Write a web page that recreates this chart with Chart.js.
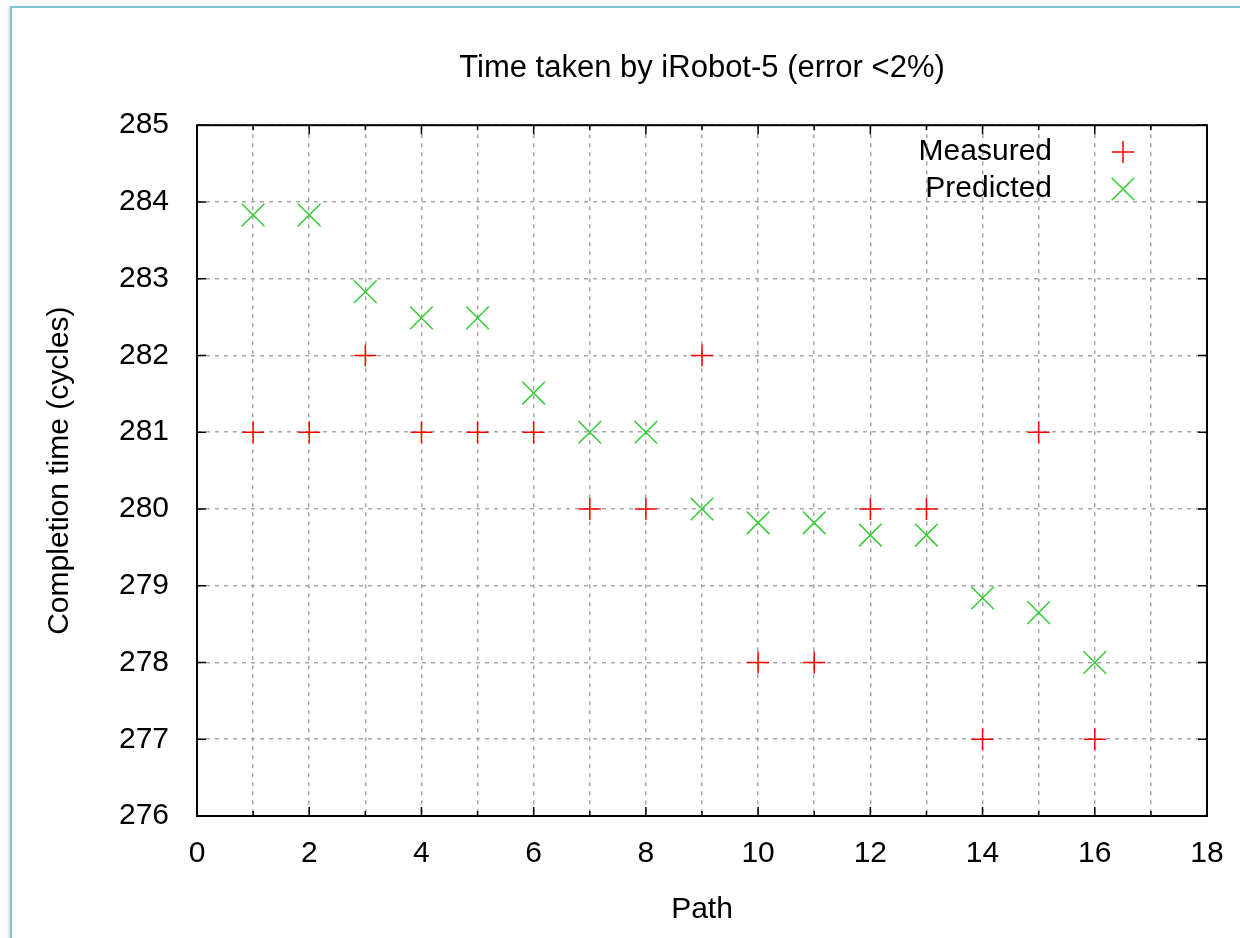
<!DOCTYPE html>
<html>
<head>
<meta charset="utf-8">
<title>Time taken by iRobot-5</title>
<script src="https://cdn.jsdelivr.net/npm/chart.js@4.4.1/dist/chart.umd.min.js"></script>
<style>
    html, body { margin: 0; padding: 0; background: #fff; }
    #wrap { position: relative; width: 1240px; height: 938px; overflow: hidden; }
    #frame {
        position: absolute; left: 10px; top: 6px; width: 1300px; height: 1000px;
        border-left: 2px solid #7fc3d4; border-top: 2px solid #7fc3d4;
        box-shadow: -2px 0 2px rgba(0,0,0,0.12);
    }
    canvas { position: absolute; left: 0; top: 0; }
</style>
</head>
<body>
<div id="wrap">
    <div id="frame"></div>
    <canvas id="chart" width="1240" height="938"></canvas>
</div>
<script>
// 路徑編號與完成時間 (cycles)
const paths = [1, 2, 3, 4, 5, 6, 7, 8, 9, 10, 11, 12, 13, 14, 15, 16];
const measured = [281, 281, 282, 281, 281, 281, 280, 280, 282, 278, 278, 280, 280, 277, 281, 277];
const predicted = [283.83, 283.83, 282.83, 282.49, 282.49, 281.51, 281, 281, 280, 279.82, 279.82, 279.66, 279.66, 278.84, 278.65, 278];
const xTicks = [0, 2, 4, 6, 8, 10, 12, 14, 16, 18];
const yTicks = [276, 277, 278, 279, 280, 281, 282, 283, 284, 285];

const FONT = "'Liberation Sans', Arial, sans-serif";

// 外框與內側刻度
const framePlugin = {
    id: 'frame',
    afterDraw(chart) {
        const { ctx, chartArea: a, scales } = chart;
        ctx.save();
        ctx.strokeStyle = '#000';
        ctx.lineWidth = 1.5;
        ctx.beginPath();
        for (let v = 1; v < 18; v++) {
            const x = scales.x.getPixelForValue(v);
            const len = v % 2 === 0 ? 9 : 5;
            ctx.moveTo(x, a.bottom); ctx.lineTo(x, a.bottom - len);
            ctx.moveTo(x, a.top); ctx.lineTo(x, a.top + len);
        }
        yTicks.forEach(v => {
            const y = scales.y.getPixelForValue(v);
            ctx.moveTo(a.left, y); ctx.lineTo(a.left + 9, y);
            ctx.moveTo(a.right, y); ctx.lineTo(a.right - 9, y);
        });
        ctx.stroke();
        ctx.lineWidth = 2;
        ctx.strokeRect(a.left, a.top, a.right - a.left, a.bottom - a.top);
        ctx.restore();
    }
};

// 圖例：文字靠右，符號在右側
const keyPlugin = {
    id: 'key',
    afterDraw(chart) {
        const ctx = chart.ctx;
        ctx.save();
        ctx.font = '30px ' + FONT;
        ctx.fillStyle = '#000';
        ctx.textAlign = 'right';
        ctx.textBaseline = 'middle';
        chart.data.datasets.forEach((ds, i) => {
            const y = 152 + i * 37;
            ctx.fillText(ds.label, 1052, y);
            const cx = 1123;
            const r = ds.pointStyle === 'cross' ? 11 : 11.3;
            ctx.strokeStyle = ds.borderColor;
            ctx.lineWidth = 1.5;
            ctx.beginPath();
            if (ds.pointStyle === 'cross') {
                ctx.moveTo(cx - r, y); ctx.lineTo(cx + r, y);
                ctx.moveTo(cx, y - r); ctx.lineTo(cx, y + r);
            } else {
                ctx.moveTo(cx - r, y - r); ctx.lineTo(cx + r, y + r);
                ctx.moveTo(cx - r, y + r); ctx.lineTo(cx + r, y - r);
            }
            ctx.stroke();
        });
        ctx.restore();
    }
};

new Chart(document.getElementById('chart'), {
    type: 'scatter',
    data: {
        datasets: [{
            label: 'Measured',
            data: paths.map((p, i) => ({ x: p, y: measured[i] })),
            pointStyle: 'cross',
            pointRadius: 11,
            borderColor: '#ff0000',
            backgroundColor: '#ff0000',
            borderWidth: 1.5
        }, {
            label: 'Predicted',
            data: paths.map((p, i) => ({ x: p, y: predicted[i] })),
            pointStyle: 'crossRot',
            pointRadius: 16,
            borderColor: '#33cc33',
            backgroundColor: '#33cc33',
            borderWidth: 1.5
        }]
    },
    options: {
        responsive: false,
        animation: false,
        events: [],
        layout: { padding: { left: 0, top: 0, right: 33, bottom: 0 } },
        plugins: {
            legend: { display: false },
            tooltip: { enabled: false },
            title: {
                display: true,
                fullSize: false,
                text: 'Time taken by iRobot-5 (error <2%)',
                color: '#000',
                font: { family: FONT, size: 31, weight: 'normal' },
                padding: { top: 50, bottom: 38 }
            }
        },
        scales: {
            x: {
                type: 'linear',
                min: 0,
                max: 18,
                afterBuildTicks: s => { s.ticks = [...Array(19).keys()].map(v => ({ value: v })); },
                afterFit: s => { s.height = 122; s.paddingLeft = 0; s.paddingRight = 0; },
                grid: { color: '#a8a8a8', lineWidth: 1.5, drawTicks: false },
                border: { display: false, dash: [4, 5] },
                ticks: {
                    autoSkip: false,
                    maxRotation: 0,
                    padding: 20,
                    color: '#000',
                    font: { family: FONT, size: 30 },
                    callback: v => xTicks.includes(v) ? String(v) : ''
                },
                title: {
                    display: true,
                    text: 'Path',
                    color: '#000',
                    font: { family: FONT, size: 30 },
                    padding: { top: 0, bottom: 10 }
                }
            },
            y: {
                min: 276,
                max: 285,
                afterBuildTicks: s => { s.ticks = yTicks.map(v => ({ value: v })); },
                afterFit: s => { s.width = 197; },
                grid: { color: '#a8a8a8', lineWidth: 1.5, drawTicks: false },
                border: { display: false, dash: [4, 5] },
                ticks: {
                    padding: 28,
                    color: '#000',
                    font: { family: FONT, size: 30 }
                },
                title: {
                    display: true,
                    text: 'Completion time (cycles)',
                    color: '#000',
                    font: { family: FONT, size: 30 },
                    padding: { top: 42, bottom: 0 }
                }
            }
        }
    },
    plugins: [framePlugin, keyPlugin]
});
</script>
</body>
</html>
